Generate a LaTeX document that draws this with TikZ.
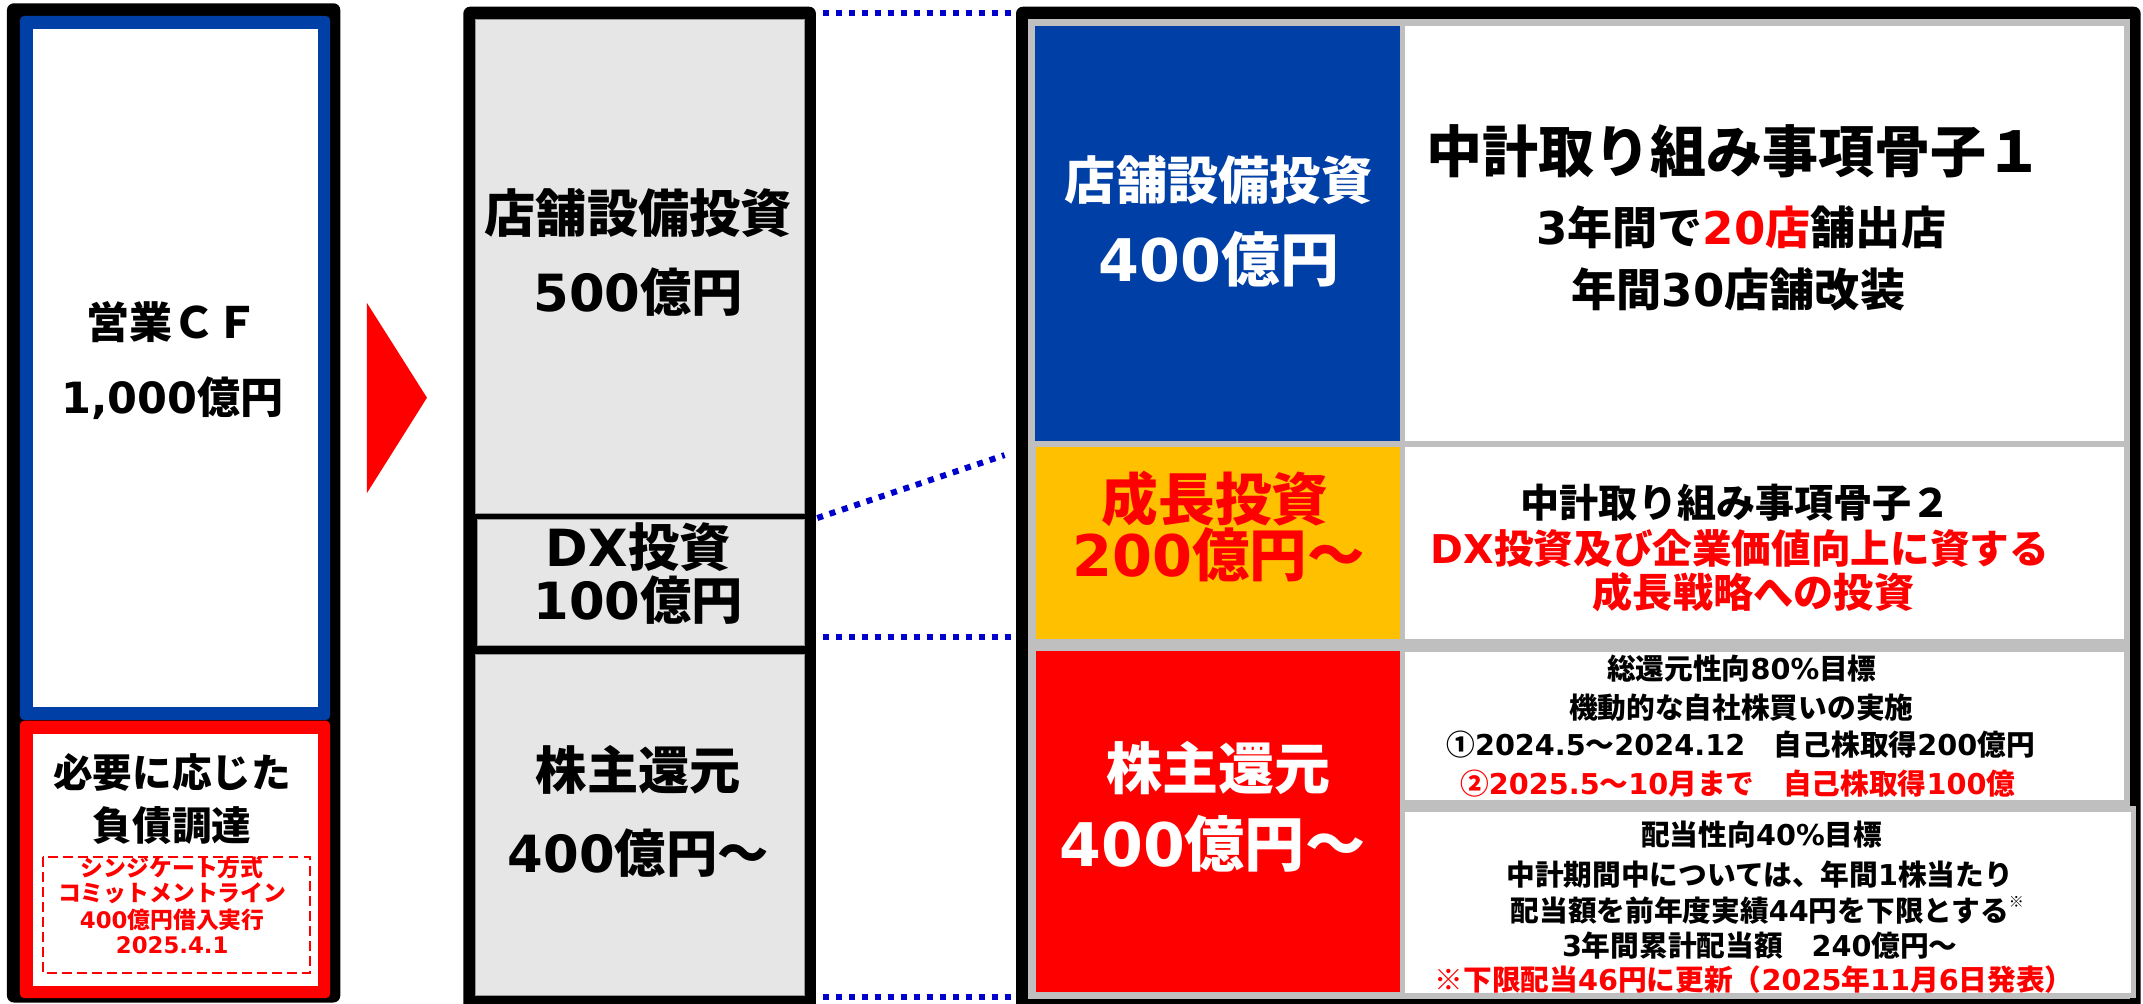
\documentclass[tikz,border=0pt]{standalone}
\usepackage{fontspec}
\setmainfont{Noto Sans CJK JP}
\newfontfamily\latf{DejaVu Sans}
\newcommand\lt[1]{{\latf #1}}
\newcommand\fsz[1]{\fontsize{#1}{#1}\selectfont}
\definecolor{cfblue}{RGB}{0,64,166}
\definecolor{cfred}{RGB}{255,0,0}
\definecolor{cfyellow}{RGB}{255,192,0}
\definecolor{midgray}{RGB}{230,230,230}
\definecolor{framegray}{RGB}{191,191,191}
\definecolor{dotblue}{RGB}{0,0,204}
\begin{document}
\begin{tikzpicture}[x=1pt,y=-1pt,
  txt/.style={inner sep=0pt, font=\bfseries},
  midbox/.style={fill=midgray, draw=gray!80, line width=0.6pt},
  dotline/.style={dotblue, line width=4.4pt, dash pattern=on 4.4pt off 5.1pt}]
\useasboundingbox (0,0) rectangle (1568,734.6);
\clip (0,0) rectangle (1568,734.6);
% ---------- left column ----------
\fill[black, rounded corners=5pt] (5.1,2.4) rectangle (249,733.5);
\fill[cfblue, rounded corners=3pt] (14.6,11.7) rectangle (241.5,526.8);
\fill[white] (24.4,21.5) rectangle (233,517.5);
\fill[cfred, rounded corners=3pt] (14.6,527.3) rectangle (241.5,730.3);
\fill[white] (24.4,537) rectangle (233,721.5);
\draw[cfred, line width=1.5pt, dash pattern=on 7.3pt off 3.7pt] (31.2,627) rectangle (226.8,712);
\node[txt, font=\bfseries\fsz{31.5}] (cf1) at (126,235.6) {営業ＣＦ};
\node[txt, font=\bfseries\fsz{31.5}] (cf2) at (126,291.2) {\lt{1,000}億円};
\node[txt, font=\bfseries\fsz{29}] (debt1) at (126,565) {必要に応じた};
\node[txt, font=\bfseries\fsz{29}] (debt2) at (126,604) {負債調達};
\node[txt, text=cfred, font=\bfseries\fsz{16.7}] (syn1) at (126,635) {シンジケート方式};
\node[txt, text=cfred, font=\bfseries\fsz{16.7}] (syn2) at (126,653.7) {コミットメントライン};
\node[txt, text=cfred, font=\bfseries\fsz{16.7}] (syn3) at (126,672.7) {\lt{400}億円借入実行};
\node[txt, text=cfred, font=\bfseries\fsz{16.7}] (syn4) at (126,691.5) {\lt{2025.4.1}};
% arrow
\fill[cfred] (268.5,221.7) -- (268.5,360.7) -- (312.4,291) -- cycle;
% ---------- middle column ----------
\fill[black, rounded corners=5pt] (339,4.9) rectangle (597,745);
\filldraw[midbox] (347.6,14.1) rectangle (588.3,375.5);
\filldraw[midbox] (349.5,380) rectangle (588.3,472);
\filldraw[midbox] (347.6,478.5) rectangle (588.3,728);
\node[txt, font=\bfseries\fsz{37.5}] (m1a) at (467,156) {店舗設備投資};
\node[txt, font=\bfseries\fsz{37.5}] (m1b) at (467,214) {\lt{500}億円};
\node[txt, font=\bfseries\fsz{37.5}] (m2a) at (467,400) {\lt{DX}投資};
\node[txt, font=\bfseries\fsz{37.5}] (m2b) at (467,439) {\lt{100}億円};
\node[txt, font=\bfseries\fsz{37.5}] (m3a) at (467,563) {株主還元};
\node[txt, font=\bfseries\fsz{37.5}] (m3b) at (467,624) {\lt{400}億円～};
% ---------- right column ----------
\fill[black, rounded corners=5pt] (743.4,4.9) rectangle (1566.3,745);
\fill[framegray] (752,14) rectangle (1558.3,731);
\fill[cfblue] (757.3,19) rectangle (1024,322.4);
\fill[white] (1028,19) rectangle (1554,322.4);
\fill[cfyellow] (757.7,327) rectangle (1024,467.6);
\fill[white] (1028,327) rectangle (1554,467.6);
\fill[cfred] (757.7,476) rectangle (1024,725.6);
\fill[white] (1028,476.8) rectangle (1554,585);
\fill[framegray] (1024,590) rectangle (1562.6,730.5);
\fill[white] (1028,594) rectangle (1559.4,726.8);
\node[txt, text=white, font=\bfseries\fsz{37.5}] (r1a) at (891.7,131.7) {店舗設備投資};
\node[txt, text=white, font=\bfseries\fsz{43}] (r1b) at (891.7,190) {\lt{400}億円};
\node[txt, font=\bfseries\fsz{41}] (k1a) at (1269,111) {中計取り組み事項骨子１};
\node[txt, font=\bfseries\fsz{33}] (k1b) at (1274,166) {\lt{3}年間で{\color{cfred}\lt{20}店}舗出店};
\node[txt, font=\bfseries\fsz{33}] (k1c) at (1272,212) {年間\lt{30}店舗改装};
\node[txt, text=cfred, font=\bfseries\fsz{41.5}] (r2a) at (889,364.7) {成長投資};
\node[txt, text=cfred, font=\bfseries\fsz{42}] (r2b) at (891.7,406) {\lt{200}億円～};
\node[txt, font=\bfseries\fsz{28.6}] (k2a) at (1270,368) {中計取り組み事項骨子２};
\node[txt, text=cfred, font=\bfseries\fsz{29}] (k2b) at (1273,401) {\lt{DX}投資及び企業価値向上に資する};
\node[txt, text=cfred, font=\bfseries\fsz{29.4}] (k2c) at (1283,433) {成長戦略への投資};
\node[txt, text=white, font=\bfseries\fsz{41}] (r3a) at (891.5,562) {株主還元};
\node[txt, text=white, font=\bfseries\fsz{44}] (r3b) at (887,617) {\lt{400}億円～};
\node[txt, font=\bfseries\fsz{21}] (a1) at (1274.5,489) {総還元性向\lt{80\%}目標};
\node[txt, font=\bfseries\fsz{21}] (a2) at (1274,518) {機動的な自社株買いの実施};
\node[txt, font=\bfseries\fsz{21}] (a3) at (1273.5,545) {①\lt{2024.5}～\lt{2024.12}　自己株取得\lt{200}億円};
\node[txt, text=cfred, font=\bfseries\fsz{21}] (a4) at (1271.5,573) {②\lt{2025.5}～\lt{10}月まで　自己株取得\lt{100}億};
\node[txt, font=\bfseries\fsz{21}] (b1) at (1289,611) {配当性向\lt{40\%}目標};
\node[txt, font=\bfseries\fsz{21}] (b2) at (1287.5,640) {中計期間中については、年間\lt{1}株当たり};
\node[txt, font=\bfseries\fsz{21}] (b3) at (1287.6,666) {配当額を前年度実績\lt{44}円を下限とする\rlap{\raisebox{0.5em}{\mdseries\fsz{11}※}}};
\node[txt, font=\bfseries\fsz{21}] (b4) at (1287.6,691.5) {\lt{3}年間累計配当額　\lt{240}億円～};
\node[txt, text=cfred, font=\bfseries\fsz{21}] (b5) at (1283.5,717) {※下限配当\lt{46}円に更新（\lt{2025}年\lt{11}月\lt{6}日発表）};
% ---------- dotted connectors ----------
\coordinate (d1a) at (602,9.3);   \coordinate (d1b) at (740,9.3);
\coordinate (d2a) at (598,379);   \coordinate (d2b) at (735,333);
\coordinate (d3a) at (602,466);   \coordinate (d3b) at (742,466);
\coordinate (d4a) at (602,729.6); \coordinate (d4b) at (742,729.6);
\draw[dotline] (d1a) -- (d1b);
\draw[dotline] (d2a) -- (d2b);
\draw[dotline] (d3a) -- (d3b);
\draw[dotline] (d4a) -- (d4b);
\end{tikzpicture}
\end{document}
